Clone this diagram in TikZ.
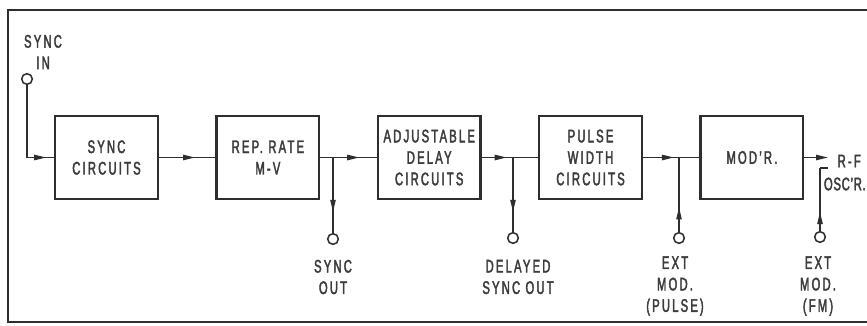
\documentclass[tikz,border=0pt]{standalone}
\usepackage{fontspec}
\setmainfont{Liberation Sans}[FakeStretch=0.62,LetterSpace=12,FakeBold=2.2]
\usetikzlibrary{arrows.meta,positioning,decorations.markings}
\definecolor{ink}{HTML}{2E2E2E}
\definecolor{txt}{HTML}{3C3C3C}
\tikzset{
  blk/.style={draw=ink, line width=2pt, minimum width=3.08cm, minimum height=2.48cm,
    align=center, text=txt, font=\fontsize{15.5}{18.3}\selectfont},
  jack/.style={circle, draw=ink, line width=1.3pt, minimum size=0.32cm, inner sep=0pt},
  lbl/.style={align=center, text=txt, inner sep=0pt, font=\fontsize{15.5}{18.3}\selectfont},
  wire/.style={draw=ink, line width=1.2pt},
  tip/.style={-{Triangle[length=3.6mm,width=1.6mm]}},
  midarrow/.style={postaction={decorate}, decoration={markings,
    mark=at position #1 with {\arrow{Triangle[length=3.6mm,width=1.6mm]}}}},
  midarrow/.default=0.5
}
\begin{document}
\begin{tikzpicture}[x=0.03cm, y=-0.03cm]
\useasboundingbox (0,0) rectangle (867,325);
% frame
\draw[ink, line width=1.4pt] (867,10) -- (8,10) -- (8,322) -- (867,322);
% blocks
\node[blk] (sync) at (106.5,157.5) {SYNC\\CIRCUITS};
\node[blk, right=1.69cm of sync] (rep) {REP. RATE\\M-V};
\node[blk, right=1.69cm of rep] (adj) {ADJUSTABLE\\DELAY\\CIRCUITS};
\node[blk, right=1.69cm of adj] (pw) {PULSE\\WIDTH\\CIRCUITS};
\node[blk, right=1.69cm of pw] (mod) {MOD'R.};
% jacks
\node[jack] (syncin) at (27,79) {};
\node[jack] (syncout) at (333,239) {};
\node[jack] (delout) at (513,238) {};
\node[jack] (extpulse) at (679,238) {};
\node[jack] (extfm) at (820,237) {};
% junctions and ends
\coordinate (c0) at (27,157.5);
\coordinate (j1) at (333,157.5);
\coordinate (j2) at (513,157.5);
\coordinate (j3) at (679,157.5);
\coordinate (rfend) at (828,157.5);
\coordinate (fmbend) at (820,168);
\coordinate (fmend) at (828,168);
% connectors
\draw[wire] (syncin) -- (c0);
\draw[wire, midarrow=0.71] (c0) -- (sync.west);
\draw[wire, midarrow=0.64] (sync.east) -- (rep.west);
\draw[wire] (rep.east) -- (j1);
\draw[wire, midarrow=0.6] (j1) -- (adj.west);
\draw[wire, midarrow=0.72] (j1) -- (syncout);
\draw[wire, midarrow=0.8] (adj.east) -- (j2);
\draw[wire] (j2) -- (pw.west);
\draw[wire, midarrow=0.73] (j2) -- (delout);
\draw[wire, midarrow=0.86] (pw.east) -- (j3);
\draw[wire] (j3) -- (mod.west);
\draw[wire, midarrow=0.33] (extpulse) -- (j3);
\draw[wire, tip] (mod.east) -- (rfend);
\draw[wire, midarrow=0.3] (extfm) -- (fmbend);
\draw[wire] (fmbend) -- (fmend);
% labels
\node[lbl] (syncinlbl) at (43,52) {SYNC\\IN};
\node[lbl] (syncoutlbl) at (333,277) {SYNC\\OUT};
\node[lbl] (deloutlbl) at (518,277) {DELAYED\\SYNC OUT};
\node[lbl] (extpulselbl) at (675,286) {EXT\\MOD.\\(PULSE)};
\node[lbl] (extfmlbl) at (818,286) {EXT\\MOD.\\(FM)};
\node[lbl, anchor=east] (rflbl) at (861,161) {R-F};
\node[lbl, anchor=east] (osclbl) at (866,184) {\addfontfeature{LetterSpace=4}OSC'R.};
\end{tikzpicture}
\end{document}
